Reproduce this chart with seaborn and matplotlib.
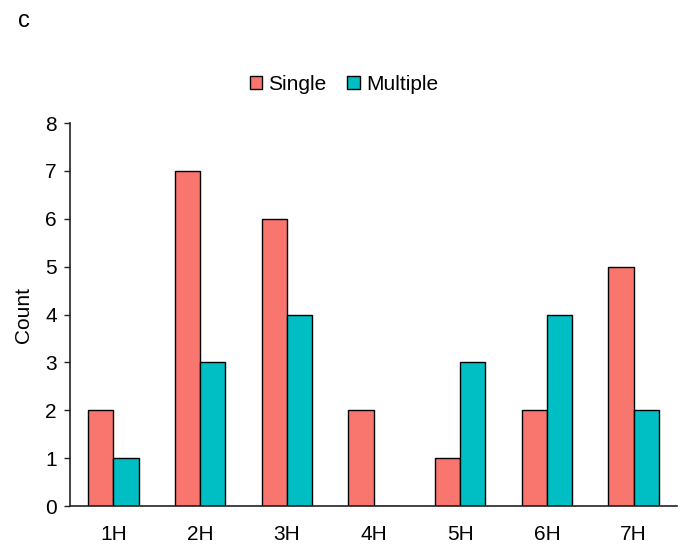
import pandas as pd
import matplotlib
matplotlib.use("Agg")
import matplotlib.pyplot as plt
import seaborn as sns

# Values
categories = ["1H", "2H", "3H", "4H", "5H", "6H", "7H"]
single = [2, 7, 6, 2, 1, 2, 5]
multiple = [1, 3, 4, 0, 3, 4, 2]

df = pd.DataFrame({
    "group": categories * 2,
    "type": ["Single"] * len(categories) + ["Multiple"] * len(categories),
    "count": single + multiple,
})

sns.set_style("white")
plt.rcParams["font.family"] = ["Liberation Sans", "DejaVu Sans"]
plt.rcParams["text.color"] = "black"
plt.rcParams["axes.labelcolor"] = "black"
plt.rcParams["xtick.color"] = "black"
plt.rcParams["ytick.color"] = "black"

fig = plt.figure(figsize=(6.87, 5.48), dpi=100)
ax = fig.add_axes([70 / 687, 1 - 506 / 548, (677 - 70) / 687, (506 - 123) / 548])

sns.barplot(data=df, x="group", y="count", hue="type",
            palette={"Single": "#F8766D", "Multiple": "#00BFC4"}, saturation=1,
            width=0.58, edgecolor="black", linewidth=1.0, ax=ax)

ax.set_xlim(-0.5, 6.5)
ax.set_ylim(0, 8)
ax.set_yticks(range(0, 9))
ax.set_xlabel("")
ax.set_ylabel("Count", fontsize=15, labelpad=9)
ax.tick_params(axis="y", direction="out", length=4.5, width=1, color="#222222",
               labelsize=15, left=True, pad=5)
ax.tick_params(axis="x", length=0, labelsize=15, pad=14)
sns.despine(ax=ax)
for s in ["left", "bottom"]:
    ax.spines[s].set_color("#222222")
    ax.spines[s].set_linewidth(1.2)

handles, labels = ax.get_legend_handles_labels()
ax.get_legend().remove()
fig.legend(handles, labels, loc="center", bbox_to_anchor=(344 / 687, 1 - 84 / 548),
           ncol=2, frameon=False, fontsize=15, handlelength=0.6, handleheight=0.6,
           handletextpad=0.3, columnspacing=1.0, borderaxespad=0)

fig.text(24 / 687, 1 - 21 / 548, "c", fontsize=17, ha="center", va="center")

fig.savefig("out.png", dpi=100)
